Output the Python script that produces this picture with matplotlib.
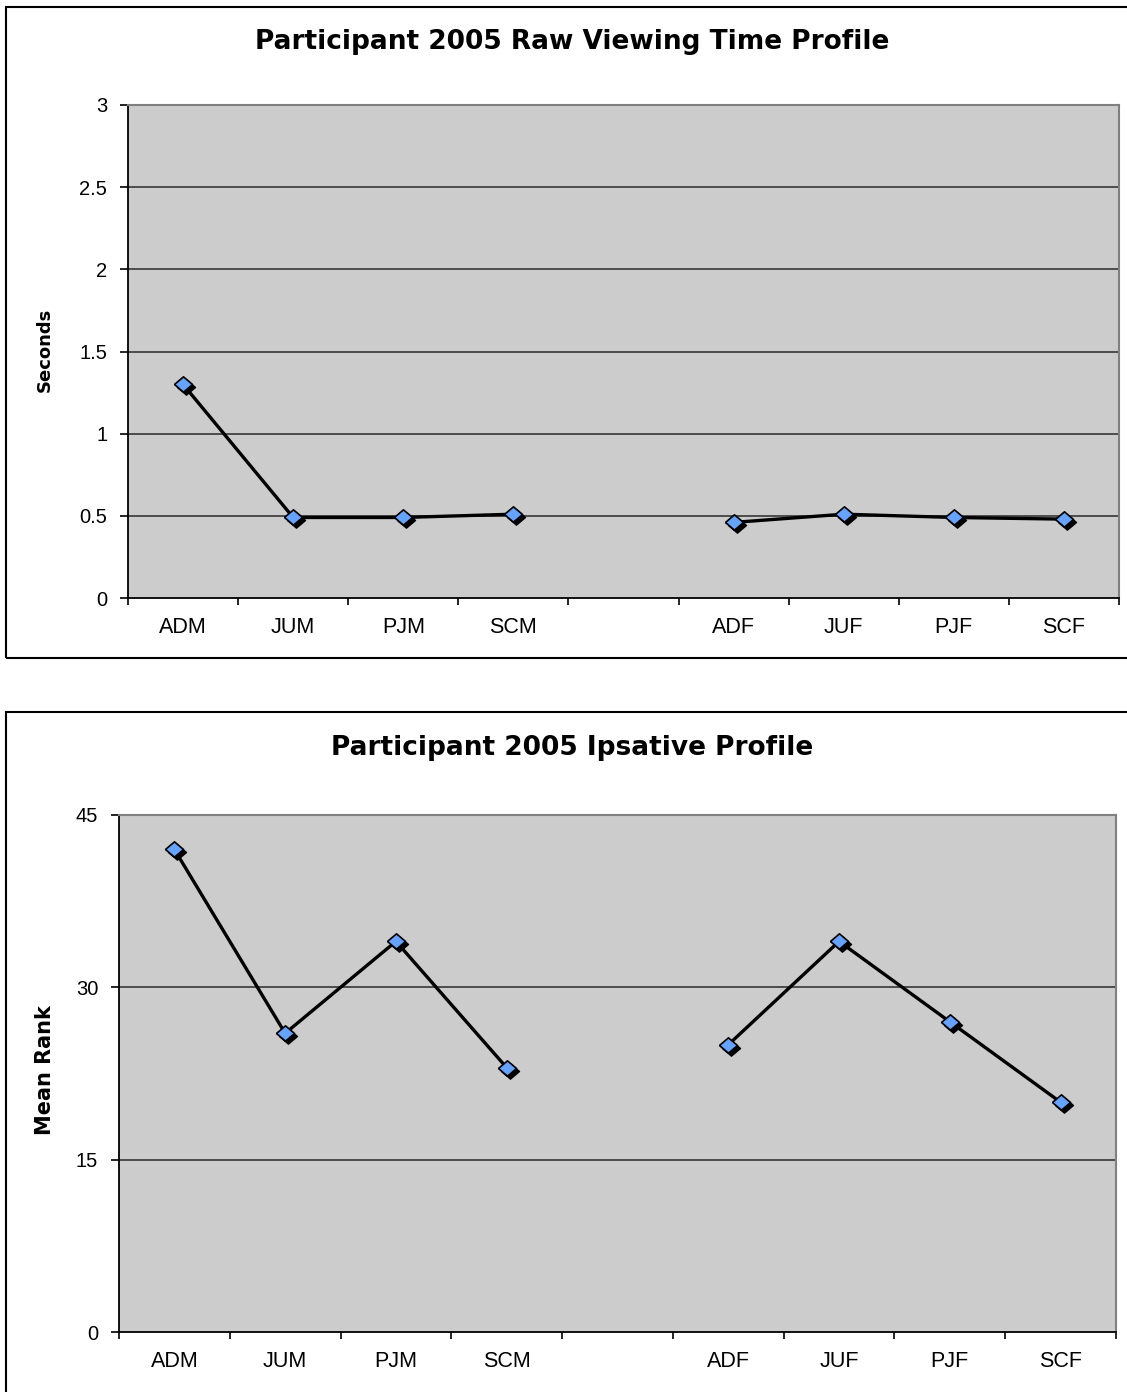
import numpy as np
import matplotlib
matplotlib.use('Agg')
import matplotlib.pyplot as plt
from matplotlib.patches import Rectangle
from matplotlib.transforms import offset_copy

# data
categories = ['ADM', 'JUM', 'PJM', 'SCM', '', 'ADF', 'JUF', 'PJF', 'SCF']
raw_seconds = [1.30, 0.49, 0.49, 0.51, np.nan, 0.46, 0.51, 0.49, 0.48]
mean_rank = [42, 26, 34, 23, np.nan, 25, 34, 27, 20]

W, H = 1127, 1392
plt.rcParams['font.family'] = ['Liberation Sans', 'DejaVu Sans']

fig = plt.figure(figsize=(W / 100, H / 100), dpi=100)

# slightly flat diamond like the Excel marker
diamond = [(-1, 0), (0, 0.85), (1, 0), (0, -0.85), (-1, 0)]


def px_box(left, top, right, bottom):
    return [left / W, 1 - bottom / H, (right - left) / W, (bottom - top) / H]


def draw_profile(box, values, yticks, title, ylabel, title_xy, ylabel_xy, ylabel_size):
    ax = fig.add_axes(px_box(*box))
    ax.set_facecolor('#cccccc')
    x = np.arange(len(categories))

    ax.plot(x, values, color='black', lw=2.4, zorder=3)
    shadow = offset_copy(ax.transData, fig=fig, x=3, y=-3, units='dots')
    ax.plot(x, values, ls='none', marker=diamond, ms=13, color='black',
            transform=shadow, zorder=4, clip_on=False)
    ax.plot(x, values, ls='none', marker=diamond, ms=13, mfc='#66a3ff',
            mec='black', mew=1.2, zorder=5, clip_on=False)

    ax.set_xlim(-0.5, len(categories) - 0.5)
    ax.set_ylim(yticks[0], yticks[-1])
    ax.set_yticks(yticks)
    ax.set_yticklabels(['%g' % t for t in yticks], fontsize=14.5)
    for t in yticks[1:-1]:
        ax.axhline(t, color='#2a2a2a', lw=1.1, zorder=1)

    # ticks between categories, labels in the middle
    ax.set_xticks(np.arange(-0.5, len(categories), 1))
    ax.set_xticklabels([])
    ax.set_xticks(x, minor=True)
    ax.set_xticklabels(categories, minor=True, fontsize=15.5)
    ax.tick_params(axis='x', which='major', length=5, width=1.2, direction='out')
    ax.tick_params(axis='x', which='minor', length=0, pad=14)
    ax.tick_params(axis='y', length=6, width=1.2, pad=9)

    ax.spines['left'].set_color('black')
    ax.spines['bottom'].set_color('black')
    ax.spines['left'].set_linewidth(1.3)
    ax.spines['bottom'].set_linewidth(1.3)
    ax.spines['top'].set_color('#808080')
    ax.spines['right'].set_color('#808080')
    ax.spines['top'].set_linewidth(1.5)
    ax.spines['right'].set_linewidth(1.5)

    fig.text(title_xy[0] / W, 1 - title_xy[1] / H, title, fontsize=19,
             fontweight='bold', family='DejaVu Sans', ha='center', va='center')
    fig.text(ylabel_xy[0] / W, 1 - ylabel_xy[1] / H, ylabel, fontsize=ylabel_size,
             fontweight='bold', family='DejaVu Sans', ha='center', va='center',
             rotation=90)
    return ax


# outer chart frames
fig.add_artist(Rectangle((6 / W, 1 - 658 / H), 1130 / W, 651 / H, transform=fig.transFigure,
                         fill=False, ec='black', lw=1.5))
fig.add_artist(Rectangle((6 / W, 1 - 1400 / H), 1130 / W, 688 / H, transform=fig.transFigure,
                         fill=False, ec='black', lw=1.5))

draw_profile((128, 105, 1119, 598), raw_seconds, [0, 0.5, 1, 1.5, 2, 2.5, 3],
             'Participant 2005 Raw Viewing Time Profile', 'Seconds',
             (572, 42), (45, 350), 13)
draw_profile((119, 815, 1116, 1332), mean_rank, [0, 15, 30, 45],
             'Participant 2005 Ipsative Profile', 'Mean Rank',
             (572, 748), (45, 1070), 15)

fig.savefig('out.png', dpi=100)
